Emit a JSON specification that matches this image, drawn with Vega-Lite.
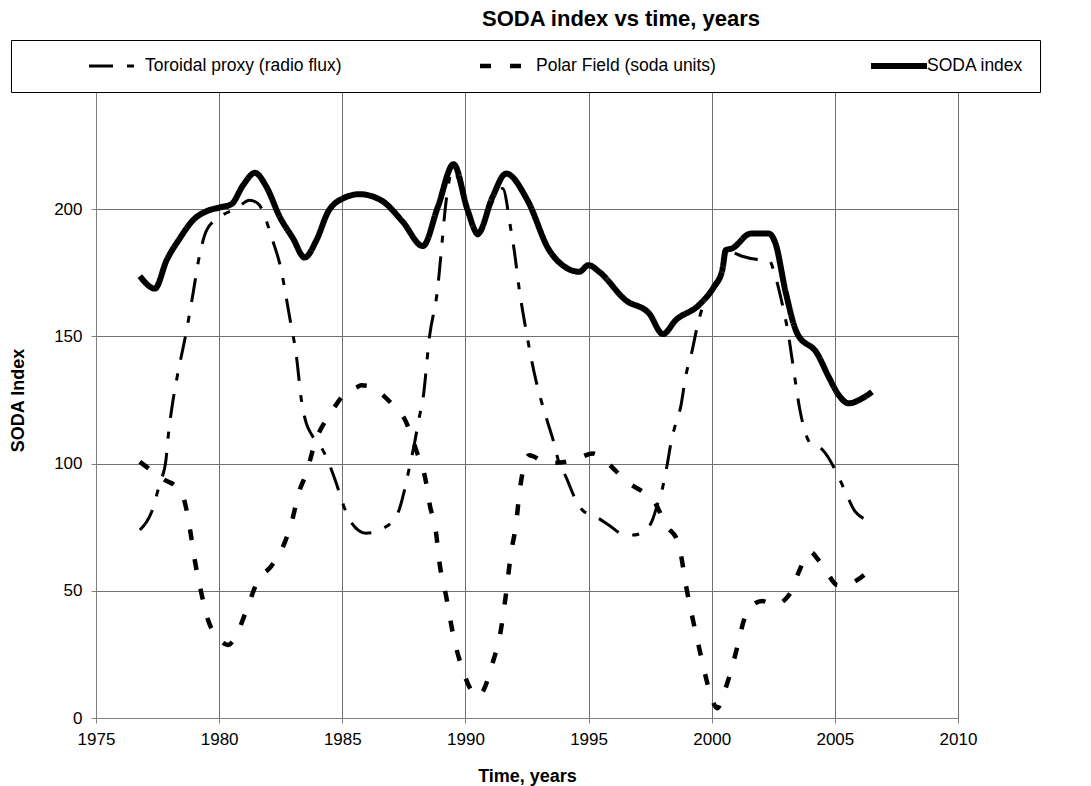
{
  "$schema": "https://vega.github.io/schema/vega-lite/v6.json",
  "width": 862,
  "height": 636,
  "autosize": {"type": "none"},
  "padding": {"left": 96, "top": 82, "right": 133, "bottom": 68},
  "background": "white",
  "title": {"text": "SODA index vs time, years", "font": "Liberation Sans", "fontSize": 22, "fontWeight": "bold", "color": "black", "anchor": "middle", "dx": 94, "offset": 9},
  "data": {"values": [
    {"series": "Toroidal proxy (radio flux)", "year": 1976.78, "value": 73.9},
    {"series": "Toroidal proxy (radio flux)", "year": 1977.26, "value": 81.1},
    {"series": "Toroidal proxy (radio flux)", "year": 1977.59, "value": 92.2},
    {"series": "Toroidal proxy (radio flux)", "year": 1977.84, "value": 101.4},
    {"series": "Toroidal proxy (radio flux)", "year": 1977.93, "value": 110.5},
    {"series": "Toroidal proxy (radio flux)", "year": 1978.13, "value": 125.0},
    {"series": "Toroidal proxy (radio flux)", "year": 1978.27, "value": 132.8},
    {"series": "Toroidal proxy (radio flux)", "year": 1978.68, "value": 152.5},
    {"series": "Toroidal proxy (radio flux)", "year": 1978.94, "value": 166.9},
    {"series": "Toroidal proxy (radio flux)", "year": 1979.22, "value": 182.6},
    {"series": "Toroidal proxy (radio flux)", "year": 1979.49, "value": 191.7},
    {"series": "Toroidal proxy (radio flux)", "year": 1980.03, "value": 197.0},
    {"series": "Toroidal proxy (radio flux)", "year": 1980.70, "value": 200.3},
    {"series": "Toroidal proxy (radio flux)", "year": 1981.24, "value": 203.5},
    {"series": "Toroidal proxy (radio flux)", "year": 1981.58, "value": 202.2},
    {"series": "Toroidal proxy (radio flux)", "year": 1982.19, "value": 187.2},
    {"series": "Toroidal proxy (radio flux)", "year": 1982.46, "value": 178.6},
    {"series": "Toroidal proxy (radio flux)", "year": 1982.86, "value": 157.7},
    {"series": "Toroidal proxy (radio flux)", "year": 1983.14, "value": 142.0},
    {"series": "Toroidal proxy (radio flux)", "year": 1983.34, "value": 125.0},
    {"series": "Toroidal proxy (radio flux)", "year": 1983.54, "value": 115.8},
    {"series": "Toroidal proxy (radio flux)", "year": 1983.75, "value": 111.5},
    {"series": "Toroidal proxy (radio flux)", "year": 1984.21, "value": 105.3},
    {"series": "Toroidal proxy (radio flux)", "year": 1984.76, "value": 92.2},
    {"series": "Toroidal proxy (radio flux)", "year": 1985.02, "value": 84.4},
    {"series": "Toroidal proxy (radio flux)", "year": 1985.30, "value": 77.8},
    {"series": "Toroidal proxy (radio flux)", "year": 1985.97, "value": 72.6},
    {"series": "Toroidal proxy (radio flux)", "year": 1986.65, "value": 74.5},
    {"series": "Toroidal proxy (radio flux)", "year": 1987.25, "value": 80.4},
    {"series": "Toroidal proxy (radio flux)", "year": 1987.46, "value": 87.0},
    {"series": "Toroidal proxy (radio flux)", "year": 1987.73, "value": 98.7},
    {"series": "Toroidal proxy (radio flux)", "year": 1987.93, "value": 107.9},
    {"series": "Toroidal proxy (radio flux)", "year": 1988.13, "value": 118.4},
    {"series": "Toroidal proxy (radio flux)", "year": 1988.27, "value": 125.0},
    {"series": "Toroidal proxy (radio flux)", "year": 1988.54, "value": 149.8},
    {"series": "Toroidal proxy (radio flux)", "year": 1988.88, "value": 169.5},
    {"series": "Toroidal proxy (radio flux)", "year": 1989.01, "value": 182.6},
    {"series": "Toroidal proxy (radio flux)", "year": 1989.22, "value": 203.5},
    {"series": "Toroidal proxy (radio flux)", "year": 1989.48, "value": 215.3},
    {"series": "Toroidal proxy (radio flux)", "year": 1989.75, "value": 211.0},
    {"series": "Toroidal proxy (radio flux)", "year": 1990.09, "value": 198.5},
    {"series": "Toroidal proxy (radio flux)", "year": 1990.50, "value": 189.5},
    {"series": "Toroidal proxy (radio flux)", "year": 1991.10, "value": 203.0},
    {"series": "Toroidal proxy (radio flux)", "year": 1991.51, "value": 208.1},
    {"series": "Toroidal proxy (radio flux)", "year": 1991.85, "value": 191.7},
    {"series": "Toroidal proxy (radio flux)", "year": 1991.98, "value": 183.9},
    {"series": "Toroidal proxy (radio flux)", "year": 1992.19, "value": 168.2},
    {"series": "Toroidal proxy (radio flux)", "year": 1992.46, "value": 152.5},
    {"series": "Toroidal proxy (radio flux)", "year": 1992.66, "value": 142.0},
    {"series": "Toroidal proxy (radio flux)", "year": 1992.86, "value": 132.8},
    {"series": "Toroidal proxy (radio flux)", "year": 1993.07, "value": 125.0},
    {"series": "Toroidal proxy (radio flux)", "year": 1993.27, "value": 118.4},
    {"series": "Toroidal proxy (radio flux)", "year": 1993.60, "value": 107.9},
    {"series": "Toroidal proxy (radio flux)", "year": 1993.81, "value": 100.0},
    {"series": "Toroidal proxy (radio flux)", "year": 1994.08, "value": 94.8},
    {"series": "Toroidal proxy (radio flux)", "year": 1994.42, "value": 87.0},
    {"series": "Toroidal proxy (radio flux)", "year": 1994.75, "value": 81.7},
    {"series": "Toroidal proxy (radio flux)", "year": 1995.29, "value": 79.1},
    {"series": "Toroidal proxy (radio flux)", "year": 1995.83, "value": 75.8},
    {"series": "Toroidal proxy (radio flux)", "year": 1996.31, "value": 72.6},
    {"series": "Toroidal proxy (radio flux)", "year": 1996.78, "value": 71.9},
    {"series": "Toroidal proxy (radio flux)", "year": 1997.25, "value": 73.2},
    {"series": "Toroidal proxy (radio flux)", "year": 1997.59, "value": 77.8},
    {"series": "Toroidal proxy (radio flux)", "year": 1997.79, "value": 83.7},
    {"series": "Toroidal proxy (radio flux)", "year": 1998.00, "value": 90.3},
    {"series": "Toroidal proxy (radio flux)", "year": 1998.20, "value": 100.0},
    {"series": "Toroidal proxy (radio flux)", "year": 1998.34, "value": 107.9},
    {"series": "Toroidal proxy (radio flux)", "year": 1998.54, "value": 115.8},
    {"series": "Toroidal proxy (radio flux)", "year": 1998.74, "value": 122.3},
    {"series": "Toroidal proxy (radio flux)", "year": 1998.94, "value": 134.1},
    {"series": "Toroidal proxy (radio flux)", "year": 1999.21, "value": 144.6},
    {"series": "Toroidal proxy (radio flux)", "year": 1999.41, "value": 153.8},
    {"series": "Toroidal proxy (radio flux)", "year": 1999.68, "value": 162.9},
    {"series": "Toroidal proxy (radio flux)", "year": 2000.09, "value": 168.5},
    {"series": "Toroidal proxy (radio flux)", "year": 2000.43, "value": 175.0},
    {"series": "Toroidal proxy (radio flux)", "year": 2000.57, "value": 183.0},
    {"series": "Toroidal proxy (radio flux)", "year": 2000.75, "value": 183.2},
    {"series": "Toroidal proxy (radio flux)", "year": 2001.20, "value": 181.6},
    {"series": "Toroidal proxy (radio flux)", "year": 2001.80, "value": 180.3},
    {"series": "Toroidal proxy (radio flux)", "year": 2002.32, "value": 180.0},
    {"series": "Toroidal proxy (radio flux)", "year": 2002.59, "value": 173.4},
    {"series": "Toroidal proxy (radio flux)", "year": 2002.86, "value": 162.9},
    {"series": "Toroidal proxy (radio flux)", "year": 2003.13, "value": 149.8},
    {"series": "Toroidal proxy (radio flux)", "year": 2003.26, "value": 141.3},
    {"series": "Toroidal proxy (radio flux)", "year": 2003.61, "value": 119.7},
    {"series": "Toroidal proxy (radio flux)", "year": 2003.81, "value": 111.9},
    {"series": "Toroidal proxy (radio flux)", "year": 2004.08, "value": 107.3},
    {"series": "Toroidal proxy (radio flux)", "year": 2004.35, "value": 106.6},
    {"series": "Toroidal proxy (radio flux)", "year": 2004.62, "value": 104.0},
    {"series": "Toroidal proxy (radio flux)", "year": 2005.02, "value": 97.4},
    {"series": "Toroidal proxy (radio flux)", "year": 2005.43, "value": 88.9},
    {"series": "Toroidal proxy (radio flux)", "year": 2005.83, "value": 81.1},
    {"series": "Toroidal proxy (radio flux)", "year": 2006.44, "value": 77.5},
    {"series": "Polar Field (soda units)", "year": 1976.78, "value": 100.7},
    {"series": "Polar Field (soda units)", "year": 1977.05, "value": 98.7},
    {"series": "Polar Field (soda units)", "year": 1977.59, "value": 94.8},
    {"series": "Polar Field (soda units)", "year": 1977.80, "value": 93.5},
    {"series": "Polar Field (soda units)", "year": 1978.30, "value": 90.5},
    {"series": "Polar Field (soda units)", "year": 1978.60, "value": 85.0},
    {"series": "Polar Field (soda units)", "year": 1978.81, "value": 74.5},
    {"series": "Polar Field (soda units)", "year": 1979.01, "value": 62.1},
    {"series": "Polar Field (soda units)", "year": 1979.28, "value": 49.0},
    {"series": "Polar Field (soda units)", "year": 1979.55, "value": 38.5},
    {"series": "Polar Field (soda units)", "year": 1979.90, "value": 32.0},
    {"series": "Polar Field (soda units)", "year": 1980.16, "value": 29.5},
    {"series": "Polar Field (soda units)", "year": 1980.36, "value": 28.7},
    {"series": "Polar Field (soda units)", "year": 1980.63, "value": 31.3},
    {"series": "Polar Field (soda units)", "year": 1981.11, "value": 42.4},
    {"series": "Polar Field (soda units)", "year": 1981.58, "value": 54.2},
    {"series": "Polar Field (soda units)", "year": 1982.10, "value": 59.5},
    {"series": "Polar Field (soda units)", "year": 1982.53, "value": 66.0},
    {"series": "Polar Field (soda units)", "year": 1982.93, "value": 76.5},
    {"series": "Polar Field (soda units)", "year": 1983.27, "value": 89.6},
    {"series": "Polar Field (soda units)", "year": 1983.54, "value": 96.1},
    {"series": "Polar Field (soda units)", "year": 1983.88, "value": 107.9},
    {"series": "Polar Field (soda units)", "year": 1984.42, "value": 118.4},
    {"series": "Polar Field (soda units)", "year": 1984.69, "value": 122.3},
    {"series": "Polar Field (soda units)", "year": 1985.10, "value": 127.5},
    {"series": "Polar Field (soda units)", "year": 1985.57, "value": 129.9},
    {"series": "Polar Field (soda units)", "year": 1985.77, "value": 130.8},
    {"series": "Polar Field (soda units)", "year": 1986.20, "value": 130.2},
    {"series": "Polar Field (soda units)", "year": 1986.65, "value": 126.9},
    {"series": "Polar Field (soda units)", "year": 1987.10, "value": 122.5},
    {"series": "Polar Field (soda units)", "year": 1987.53, "value": 117.5},
    {"series": "Polar Field (soda units)", "year": 1988.00, "value": 105.3},
    {"series": "Polar Field (soda units)", "year": 1988.41, "value": 92.2},
    {"series": "Polar Field (soda units)", "year": 1988.54, "value": 84.4},
    {"series": "Polar Field (soda units)", "year": 1988.81, "value": 72.6},
    {"series": "Polar Field (soda units)", "year": 1988.94, "value": 61.5},
    {"series": "Polar Field (soda units)", "year": 1989.22, "value": 47.7},
    {"series": "Polar Field (soda units)", "year": 1989.52, "value": 31.9},
    {"series": "Polar Field (soda units)", "year": 1989.89, "value": 18.9},
    {"series": "Polar Field (soda units)", "year": 1990.20, "value": 11.5},
    {"series": "Polar Field (soda units)", "year": 1990.47, "value": 8.4},
    {"series": "Polar Field (soda units)", "year": 1990.70, "value": 10.3},
    {"series": "Polar Field (soda units)", "year": 1991.10, "value": 21.5},
    {"series": "Polar Field (soda units)", "year": 1991.44, "value": 34.6},
    {"series": "Polar Field (soda units)", "year": 1991.65, "value": 49.0},
    {"series": "Polar Field (soda units)", "year": 1991.85, "value": 64.7},
    {"series": "Polar Field (soda units)", "year": 1992.06, "value": 76.5},
    {"series": "Polar Field (soda units)", "year": 1992.19, "value": 88.3},
    {"series": "Polar Field (soda units)", "year": 1992.39, "value": 99.4},
    {"series": "Polar Field (soda units)", "year": 1992.59, "value": 103.3},
    {"series": "Polar Field (soda units)", "year": 1992.79, "value": 102.7},
    {"series": "Polar Field (soda units)", "year": 1993.20, "value": 100.5},
    {"series": "Polar Field (soda units)", "year": 1993.67, "value": 100.3},
    {"series": "Polar Field (soda units)", "year": 1994.20, "value": 101.0},
    {"series": "Polar Field (soda units)", "year": 1994.69, "value": 102.5},
    {"series": "Polar Field (soda units)", "year": 1995.16, "value": 104.0},
    {"series": "Polar Field (soda units)", "year": 1995.70, "value": 100.7},
    {"series": "Polar Field (soda units)", "year": 1996.65, "value": 92.2},
    {"series": "Polar Field (soda units)", "year": 1997.20, "value": 89.0},
    {"series": "Polar Field (soda units)", "year": 1997.59, "value": 86.3},
    {"series": "Polar Field (soda units)", "year": 1997.79, "value": 83.0},
    {"series": "Polar Field (soda units)", "year": 1998.13, "value": 75.8},
    {"series": "Polar Field (soda units)", "year": 1998.60, "value": 69.9},
    {"series": "Polar Field (soda units)", "year": 1998.74, "value": 64.7},
    {"series": "Polar Field (soda units)", "year": 1998.94, "value": 52.9},
    {"series": "Polar Field (soda units)", "year": 1999.21, "value": 39.8},
    {"series": "Polar Field (soda units)", "year": 1999.48, "value": 28.0},
    {"series": "Polar Field (soda units)", "year": 1999.69, "value": 18.9},
    {"series": "Polar Field (soda units)", "year": 2000.02, "value": 7.1},
    {"series": "Polar Field (soda units)", "year": 2000.22, "value": 3.8},
    {"series": "Polar Field (soda units)", "year": 2000.49, "value": 9.7},
    {"series": "Polar Field (soda units)", "year": 2000.83, "value": 20.2},
    {"series": "Polar Field (soda units)", "year": 2001.04, "value": 28.0},
    {"series": "Polar Field (soda units)", "year": 2001.31, "value": 38.5},
    {"series": "Polar Field (soda units)", "year": 2001.58, "value": 43.7},
    {"series": "Polar Field (soda units)", "year": 2002.05, "value": 46.0},
    {"series": "Polar Field (soda units)", "year": 2002.52, "value": 44.4},
    {"series": "Polar Field (soda units)", "year": 2003.00, "value": 46.8},
    {"series": "Polar Field (soda units)", "year": 2003.26, "value": 50.3},
    {"series": "Polar Field (soda units)", "year": 2003.54, "value": 57.5},
    {"series": "Polar Field (soda units)", "year": 2004.01, "value": 65.3},
    {"series": "Polar Field (soda units)", "year": 2004.30, "value": 62.5},
    {"series": "Polar Field (soda units)", "year": 2004.62, "value": 58.2},
    {"series": "Polar Field (soda units)", "year": 2005.09, "value": 52.3},
    {"series": "Polar Field (soda units)", "year": 2005.43, "value": 52.0},
    {"series": "Polar Field (soda units)", "year": 2005.90, "value": 54.2},
    {"series": "Polar Field (soda units)", "year": 2006.40, "value": 58.0},
    {"series": "SODA index", "year": 1976.78, "value": 173.7},
    {"series": "SODA index", "year": 1977.39, "value": 168.8},
    {"series": "SODA index", "year": 1977.87, "value": 180.0},
    {"series": "SODA index", "year": 1978.40, "value": 188.5},
    {"series": "SODA index", "year": 1978.94, "value": 195.7},
    {"series": "SODA index", "year": 1979.49, "value": 199.2},
    {"series": "SODA index", "year": 1980.03, "value": 200.7},
    {"series": "SODA index", "year": 1980.50, "value": 202.0},
    {"series": "SODA index", "year": 1980.97, "value": 209.4},
    {"series": "SODA index", "year": 1981.45, "value": 214.3},
    {"series": "SODA index", "year": 1981.92, "value": 208.8},
    {"series": "SODA index", "year": 1982.46, "value": 197.0},
    {"series": "SODA index", "year": 1983.00, "value": 188.5},
    {"series": "SODA index", "year": 1983.47, "value": 181.0},
    {"series": "SODA index", "year": 1983.95, "value": 187.8},
    {"series": "SODA index", "year": 1984.42, "value": 198.9},
    {"series": "SODA index", "year": 1985.02, "value": 204.2},
    {"series": "SODA index", "year": 1985.70, "value": 205.9},
    {"series": "SODA index", "year": 1986.58, "value": 203.5},
    {"series": "SODA index", "year": 1987.46, "value": 195.0},
    {"series": "SODA index", "year": 1988.27, "value": 185.5},
    {"series": "SODA index", "year": 1988.88, "value": 200.9},
    {"series": "SODA index", "year": 1989.52, "value": 217.7},
    {"series": "SODA index", "year": 1990.09, "value": 199.6},
    {"series": "SODA index", "year": 1990.50, "value": 190.4},
    {"series": "SODA index", "year": 1991.10, "value": 204.8},
    {"series": "SODA index", "year": 1991.65, "value": 214.0},
    {"series": "SODA index", "year": 1992.52, "value": 203.5},
    {"series": "SODA index", "year": 1993.40, "value": 183.9},
    {"series": "SODA index", "year": 1993.94, "value": 178.0},
    {"series": "SODA index", "year": 1994.62, "value": 175.4},
    {"series": "SODA index", "year": 1995.00, "value": 178.0},
    {"series": "SODA index", "year": 1995.43, "value": 175.4},
    {"series": "SODA index", "year": 1996.51, "value": 164.2},
    {"series": "SODA index", "year": 1997.46, "value": 159.0},
    {"series": "SODA index", "year": 1998.02, "value": 150.9},
    {"series": "SODA index", "year": 1998.54, "value": 156.4},
    {"series": "SODA index", "year": 1999.48, "value": 162.3},
    {"series": "SODA index", "year": 2000.09, "value": 169.5},
    {"series": "SODA index", "year": 2000.43, "value": 176.0},
    {"series": "SODA index", "year": 2000.57, "value": 183.9},
    {"series": "SODA index", "year": 2000.83, "value": 184.6},
    {"series": "SODA index", "year": 2001.58, "value": 190.4},
    {"series": "SODA index", "year": 2002.32, "value": 190.4},
    {"series": "SODA index", "year": 2002.59, "value": 186.5},
    {"series": "SODA index", "year": 2003.00, "value": 167.5},
    {"series": "SODA index", "year": 2003.47, "value": 151.2},
    {"series": "SODA index", "year": 2004.28, "value": 143.3},
    {"series": "SODA index", "year": 2004.75, "value": 134.1},
    {"series": "SODA index", "year": 2005.16, "value": 126.9},
    {"series": "SODA index", "year": 2005.56, "value": 123.7},
    {"series": "SODA index", "year": 2006.10, "value": 125.6},
    {"series": "SODA index", "year": 2006.51, "value": 128.2}
  ]},
  "mark": {"type": "line", "interpolate": "monotone", "color": "black", "strokeCap": "butt", "clip": true},
  "encoding": {
    "x": {"field": "year", "type": "quantitative",
      "scale": {"domain": [1975, 2010], "nice": false, "zero": false},
      "axis": {"values": [1975, 1980, 1985, 1990, 1995, 2000, 2005, 2010], "format": "d", "title": "Time, years", "titlePadding": 20, "labelPadding": 8}},
    "y": {"field": "value", "type": "quantitative",
      "scale": {"domain": [0, 250], "nice": false},
      "axis": {"values": [0, 50, 100, 150, 200, 250], "format": "d", "title": "SODA Index", "labelPadding": 9, "titlePadding": 26}},
    "strokeDash": {"field": "series", "type": "nominal",
      "scale": {"domain": ["Toroidal proxy (radio flux)", "Polar Field (soda units)", "SODA index"], "range": [[24, 14, 7, 14], [11, 19], [1, 0]]},
      "legend": {"orient": "none", "legendX": -85, "legendY": -42, "direction": "horizontal", "columns": 3, "title": null}},
    "strokeWidth": {"field": "series", "type": "nominal",
      "scale": {"domain": ["Toroidal proxy (radio flux)", "Polar Field (soda units)", "SODA index"], "range": [3, 6, 5.5]},
      "legend": {"orient": "none", "legendX": -85, "legendY": -42, "direction": "horizontal", "columns": 3, "title": null}}
  },
  "config": {
    "view": {"stroke": null},
    "axis": {"labelFont": "Liberation Sans", "labelFontSize": 17, "labelColor": "black", "titleFont": "Liberation Sans", "titleFontSize": 18, "titleFontWeight": "bold", "titleColor": "black", "domainColor": "#808080", "tickColor": "#808080", "tickSize": 5, "gridColor": "#707070", "gridOpacity": 1, "grid": true, "labelFlush": false},
    "legend": {"fillColor": "white", "strokeColor": "black", "padding": 16, "clipHeight": 20, "gridAlign": "all", "symbolType": "stroke", "symbolSize": 3136, "symbolStrokeColor": "black", "labelFont": "Liberation Sans", "labelFontSize": 17.5, "labelColor": "black", "columnPadding": 76, "symbolOffset": 59, "labelOffset": -3, "labelLimit": 400}
  }
}
